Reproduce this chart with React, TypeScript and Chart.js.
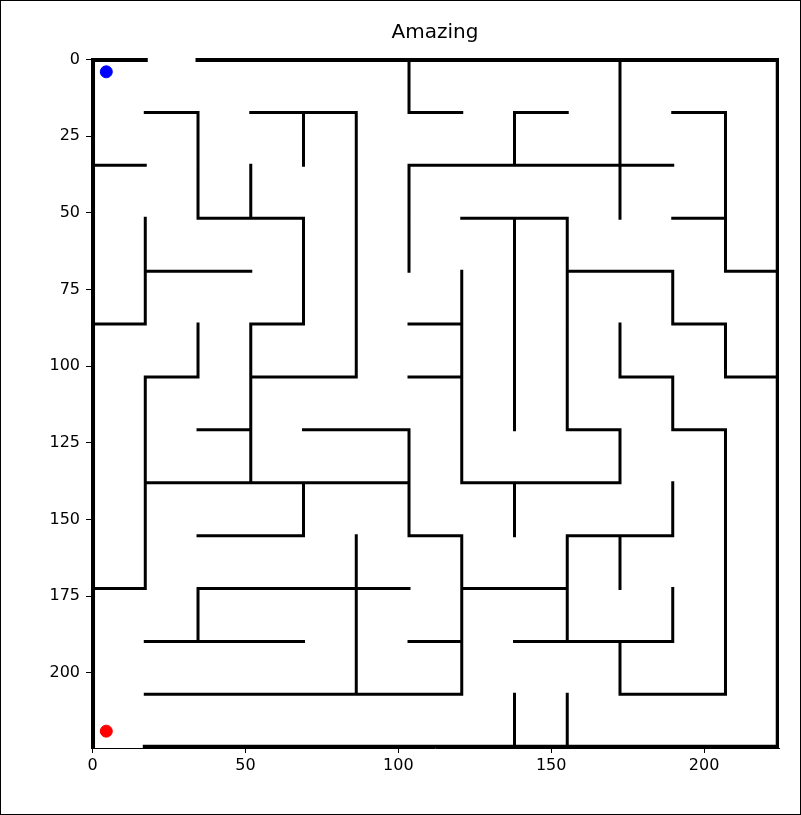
import React, { useEffect, useRef } from 'react';
import { Chart, registerables } from 'chart.js';

Chart.register(...registerables);

const CELL = 17.25;
const titleText = 'Amazing';
const xTicks = [0, 50, 100, 150, 200];
const yTicks = [0, 25, 50, 75, 100, 125, 150, 175, 200];

// outer walls in grid units [i1, j1, i2, j2]
const borderWalls = [
  [0, 0, 1, 0], [2, 0, 13, 0], [13, 0, 13, 13], [1, 13, 13, 13], [0, 0, 0, 13],
];

// horizontal inner walls [j, iStart, iEnd]
const hWalls = [
  [1, 1, 2], [1, 3, 5], [1, 6, 7], [1, 8, 9], [1, 11, 12],
  [2, 0, 1], [2, 6, 11],
  [3, 2, 4], [3, 7, 9], [3, 11, 12],
  [4, 1, 3], [4, 9, 11], [4, 12, 13],
  [5, 0, 1], [5, 3, 4], [5, 6, 7], [5, 11, 12],
  [6, 1, 2], [6, 3, 5], [6, 6, 7], [6, 10, 11], [6, 12, 13],
  [7, 2, 3], [7, 4, 6], [7, 9, 10], [7, 11, 12],
  [8, 1, 6], [8, 7, 10],
  [9, 2, 4], [9, 6, 7], [9, 9, 11],
  [10, 0, 1], [10, 2, 6], [10, 7, 9],
  [11, 1, 4], [11, 6, 7], [11, 8, 11],
  [12, 1, 7], [12, 10, 12],
];

// vertical inner walls [i, jStart, jEnd]
const vWalls = [
  [1, 3, 5], [1, 6, 10],
  [2, 1, 3], [2, 5, 6], [2, 10, 11],
  [3, 2, 3], [3, 5, 8],
  [4, 1, 2], [4, 3, 5], [4, 8, 9],
  [5, 1, 6], [5, 9, 12],
  [6, 0, 1], [6, 2, 4], [6, 7, 9],
  [7, 4, 8], [7, 9, 12],
  [8, 1, 2], [8, 3, 7], [8, 8, 9], [8, 12, 13],
  [9, 3, 7], [9, 9, 11], [9, 12, 13],
  [10, 0, 3], [10, 5, 6], [10, 7, 8], [10, 9, 10], [10, 11, 12],
  [11, 4, 5], [11, 6, 7], [11, 8, 9], [11, 10, 11],
  [12, 1, 4], [12, 5, 6], [12, 7, 12],
];

const startPoint = [{ x: 4.5, y: 4 }];
const endPoint = [{ x: 4.5, y: 219 }];

type Pt = { x: number; y: number | null };

const toPoints = (segs: number[][]): Pt[] => {
  const out: Pt[] = [];
  segs.forEach(([i1, j1, i2, j2]) => {
    out.push({ x: i1 * CELL, y: j1 * CELL }, { x: i2 * CELL, y: j2 * CELL }, { x: i2 * CELL, y: null });
  });
  return out;
};

const innerSegs = [
  ...hWalls.map(([j, a, b]) => [a, j, b, j]),
  ...vWalls.map(([i, a, b]) => [i, a, i, b]),
];

const titlePlugin = {
  id: 'mazeTitle',
  afterDraw(chart: Chart) {
    const { ctx, chartArea } = chart;
    ctx.save();
    ctx.font = '20px "DejaVu Sans"';
    ctx.fillStyle = '#000';
    ctx.textAlign = 'center';
    ctx.textBaseline = 'middle';
    ctx.fillText(titleText, (chartArea.left + chartArea.right) / 2, 33);
    ctx.restore();
  },
};

const App: React.FC = () => {
  const canvasRef = useRef<HTMLCanvasElement>(null);
  const chartInstance = useRef<Chart | null>(null);

  useEffect(() => {
    document.body.style.margin = '0';
    if (!canvasRef.current) return;
    if (chartInstance.current) chartInstance.current.destroy();

    const tickFont = { family: 'DejaVu Sans', size: 16 };
    const lineDs = (data: Pt[], width: number) => ({
      type: 'line' as const,
      data,
      borderColor: '#000',
      borderWidth: width,
      borderCapStyle: 'square' as const,
      pointRadius: 0,
      spanGaps: false,
      fill: false,
    });

    chartInstance.current = new Chart(canvasRef.current, {
      type: 'scatter',
      data: {
        datasets: [
          lineDs(toPoints(innerSegs), 3) as any,
          lineDs(toPoints(borderWalls), 5) as any,
          { data: startPoint, backgroundColor: '#0000ff', borderColor: '#0000ff', pointRadius: 6, pointStyle: 'circle' },
          { data: endPoint, backgroundColor: '#ff0000', borderColor: '#ff0000', pointRadius: 6, pointStyle: 'circle' },
        ],
      },
      options: {
        animation: false,
        responsive: false,
        layout: { padding: { left: 0, top: 58, right: 22, bottom: 0 } },
        plugins: { legend: { display: false }, tooltip: { enabled: false } },
        scales: {
          x: {
            type: 'linear',
            min: -0.5,
            max: 224.5,
            afterBuildTicks: (s: any) => { s.ticks = xTicks.map((v) => ({ value: v })); },
            afterFit: (s: any) => { s.height = 67; },
            grid: { drawOnChartArea: false, drawTicks: true, tickLength: 5, color: '#000' },
            border: { display: true, color: '#000', width: 1 },
            ticks: { color: '#000', font: tickFont, padding: 3, maxRotation: 0 },
          },
          y: {
            type: 'linear',
            reverse: true,
            min: -0.5,
            max: 224.5,
            afterBuildTicks: (s: any) => { s.ticks = yTicks.map((v) => ({ value: v })); },
            afterFit: (s: any) => { s.width = 91; },
            grid: { drawOnChartArea: false, drawTicks: true, tickLength: 5, color: '#000' },
            border: { display: true, color: '#000', width: 1 },
            ticks: { color: '#000', font: tickFont, padding: 6 },
          },
        },
      },
      plugins: [titlePlugin],
    });

    return () => {
      if (chartInstance.current) {
        chartInstance.current.destroy();
        chartInstance.current = null;
      }
    };
  }, []);

  return (
    <div style={{ position: 'relative', width: 801, height: 815, background: '#fff' }}>
      <canvas ref={canvasRef} width={801} height={815} style={{ display: 'block' }}></canvas>
      <div style={{ position: 'absolute', left: 0, top: 0, width: 801, height: 815, boxSizing: 'border-box', border: '1px solid #000', pointerEvents: 'none' }} />
    </div>
  );
};

export default App;
